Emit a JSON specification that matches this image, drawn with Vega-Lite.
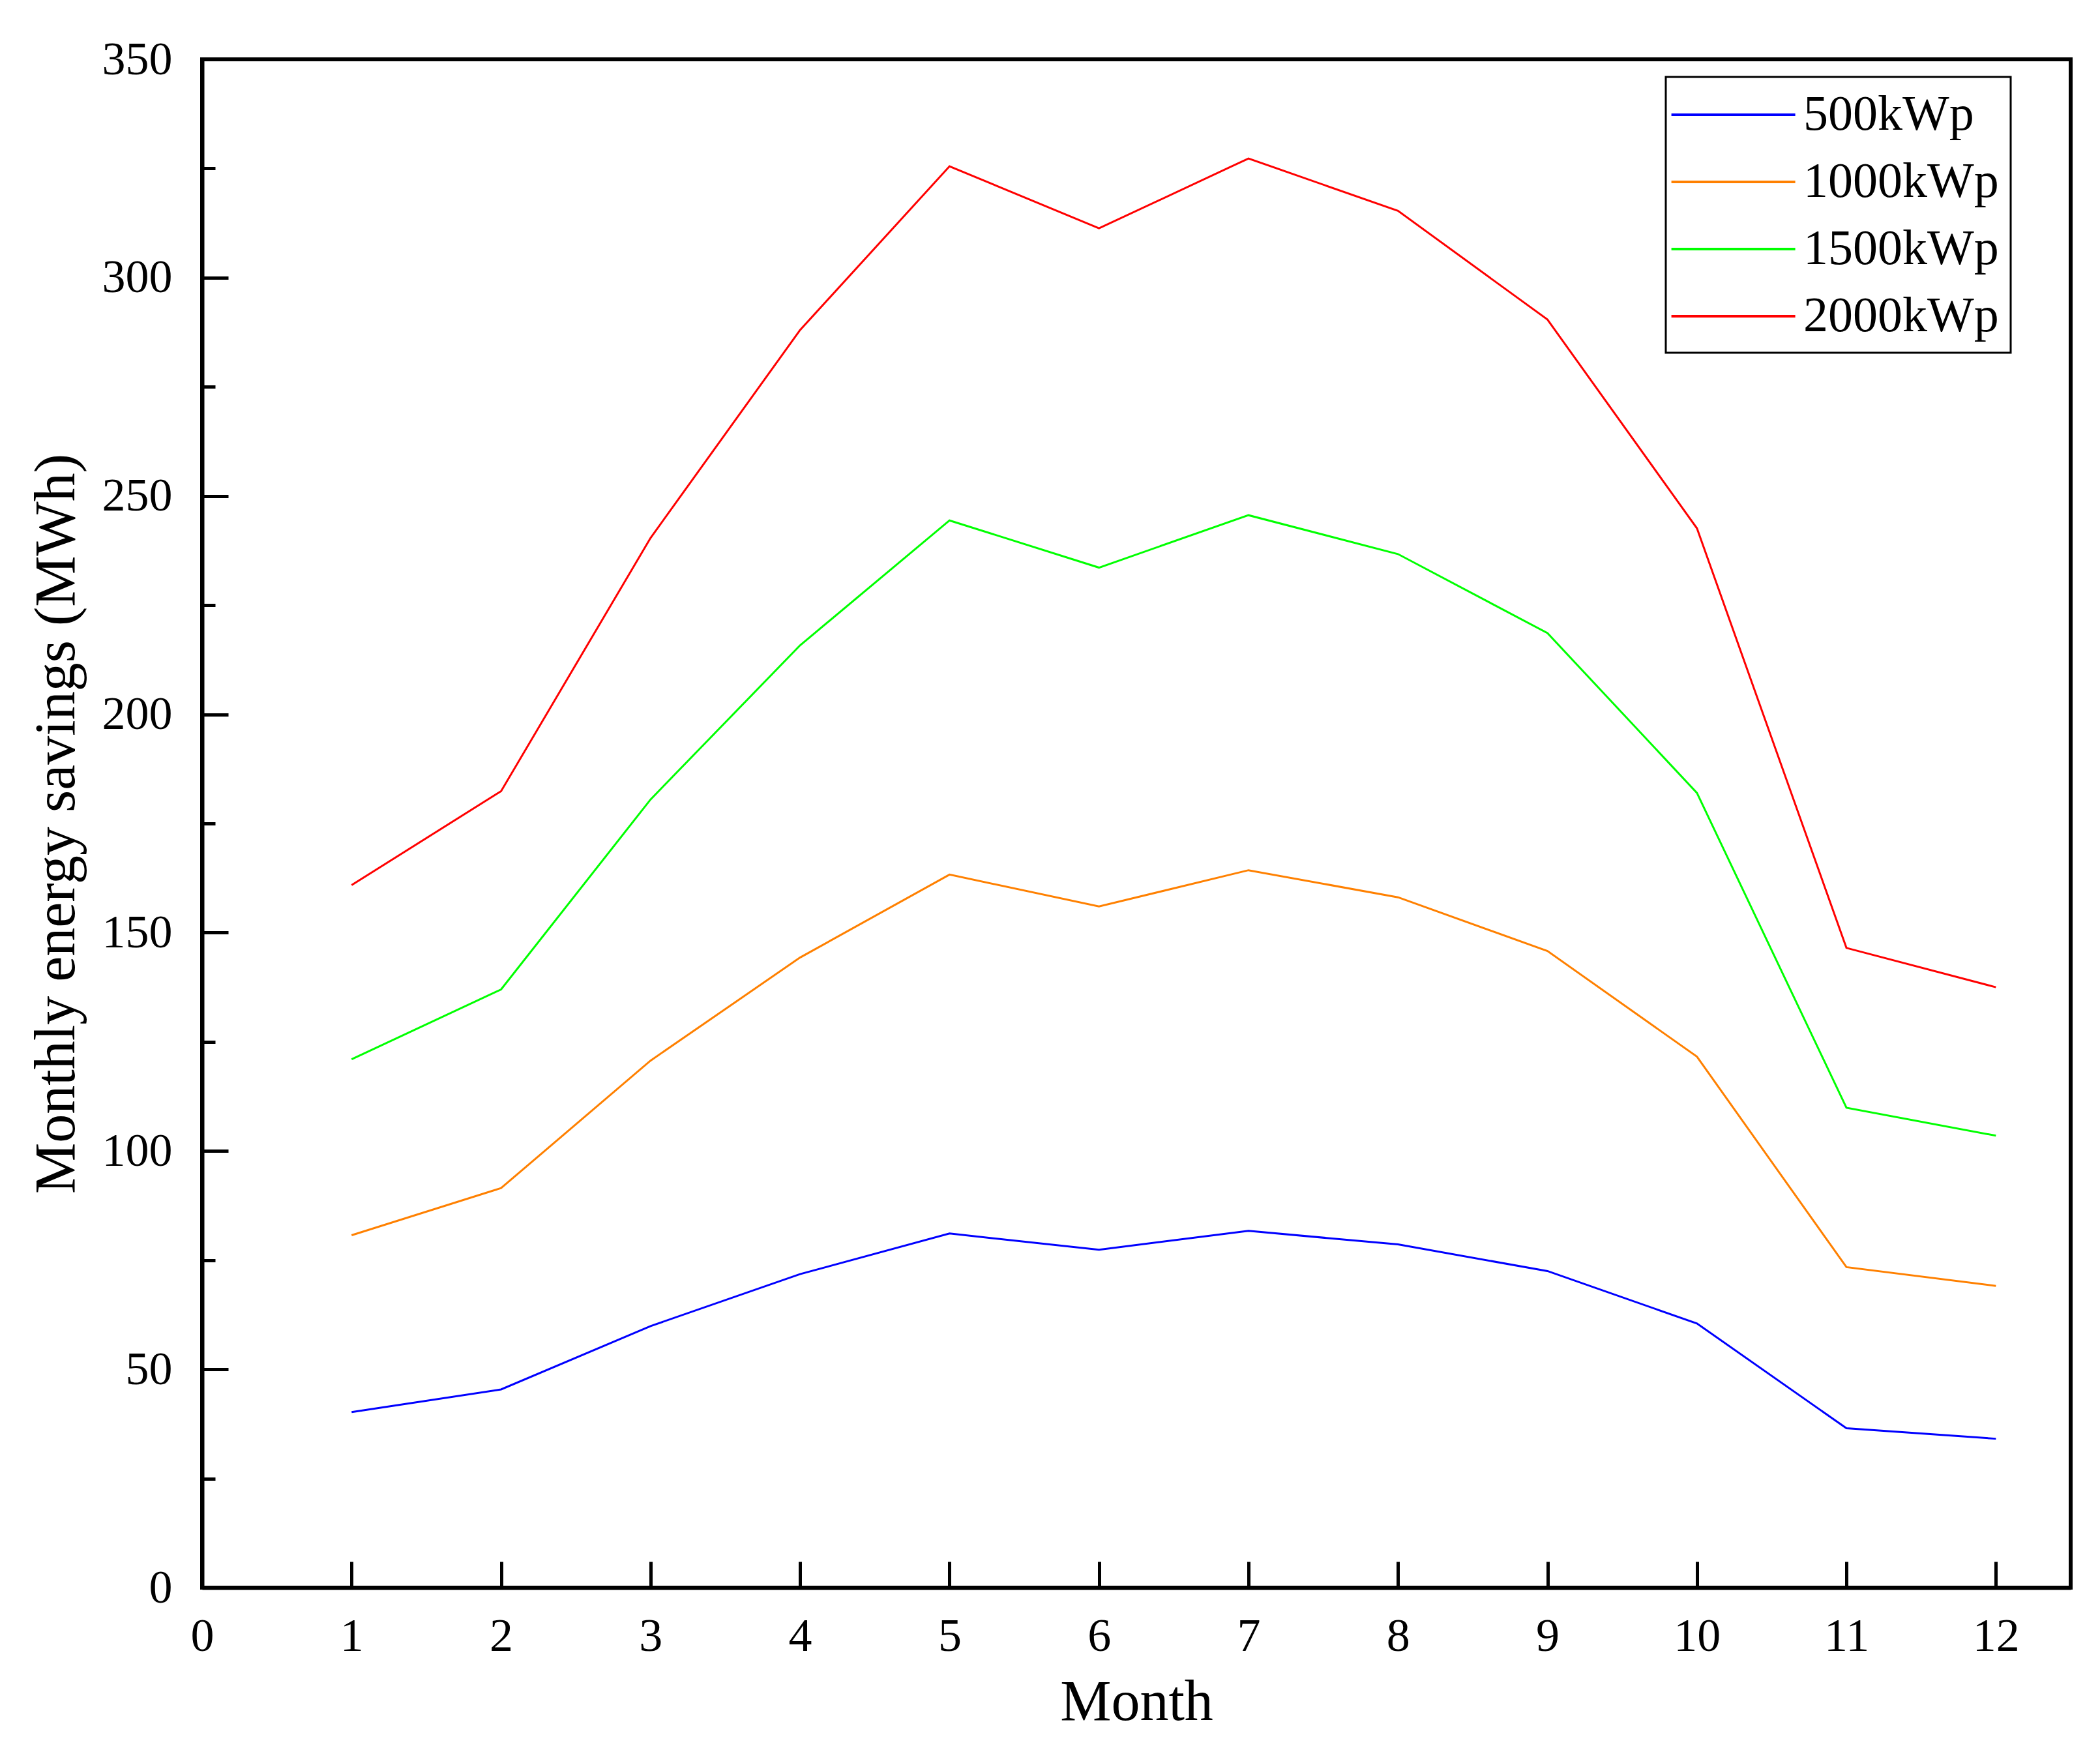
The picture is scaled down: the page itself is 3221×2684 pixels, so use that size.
{
  "$schema": "https://vega.github.io/schema/vega-lite/v6.json",
  "width": 2866,
  "height": 2344,
  "autosize": {"type": "none"},
  "padding": {"left": 310, "top": 91, "right": 45, "bottom": 249},
  "background": "white",
  "config": {
    "font": "Liberation Serif",
    "view": {"stroke": "black", "strokeWidth": 6},
    "legend": {"strokeWidth": 3}
  },
  "data": {
    "values": [
      {"month": 1, "series": "500kWp", "savings": 40.2},
      {"month": 2, "series": "500kWp", "savings": 45.4},
      {"month": 3, "series": "500kWp", "savings": 59.9},
      {"month": 4, "series": "500kWp", "savings": 71.8},
      {"month": 5, "series": "500kWp", "savings": 81.1},
      {"month": 6, "series": "500kWp", "savings": 77.4},
      {"month": 7, "series": "500kWp", "savings": 81.7},
      {"month": 8, "series": "500kWp", "savings": 78.6},
      {"month": 9, "series": "500kWp", "savings": 72.5},
      {"month": 10, "series": "500kWp", "savings": 60.5},
      {"month": 11, "series": "500kWp", "savings": 36.5},
      {"month": 12, "series": "500kWp", "savings": 34.1},
      {"month": 1, "series": "1000kWp", "savings": 80.7},
      {"month": 2, "series": "1000kWp", "savings": 91.5},
      {"month": 3, "series": "1000kWp", "savings": 120.7},
      {"month": 4, "series": "1000kWp", "savings": 144.3},
      {"month": 5, "series": "1000kWp", "savings": 163.3},
      {"month": 6, "series": "1000kWp", "savings": 156.0},
      {"month": 7, "series": "1000kWp", "savings": 164.3},
      {"month": 8, "series": "1000kWp", "savings": 158.1},
      {"month": 9, "series": "1000kWp", "savings": 145.8},
      {"month": 10, "series": "1000kWp", "savings": 121.6},
      {"month": 11, "series": "1000kWp", "savings": 73.4},
      {"month": 12, "series": "1000kWp", "savings": 69.1},
      {"month": 1, "series": "1500kWp", "savings": 121.0},
      {"month": 2, "series": "1500kWp", "savings": 137.0},
      {"month": 3, "series": "1500kWp", "savings": 180.5},
      {"month": 4, "series": "1500kWp", "savings": 215.8},
      {"month": 5, "series": "1500kWp", "savings": 244.4},
      {"month": 6, "series": "1500kWp", "savings": 233.6},
      {"month": 7, "series": "1500kWp", "savings": 245.6},
      {"month": 8, "series": "1500kWp", "savings": 236.7},
      {"month": 9, "series": "1500kWp", "savings": 218.6},
      {"month": 10, "series": "1500kWp", "savings": 182.0},
      {"month": 11, "series": "1500kWp", "savings": 109.9},
      {"month": 12, "series": "1500kWp", "savings": 103.5},
      {"month": 1, "series": "2000kWp", "savings": 160.9},
      {"month": 2, "series": "2000kWp", "savings": 182.4},
      {"month": 3, "series": "2000kWp", "savings": 240.4},
      {"month": 4, "series": "2000kWp", "savings": 288.0},
      {"month": 5, "series": "2000kWp", "savings": 325.5},
      {"month": 6, "series": "2000kWp", "savings": 311.3},
      {"month": 7, "series": "2000kWp", "savings": 327.3},
      {"month": 8, "series": "2000kWp", "savings": 315.3},
      {"month": 9, "series": "2000kWp", "savings": 290.4},
      {"month": 10, "series": "2000kWp", "savings": 242.6},
      {"month": 11, "series": "2000kWp", "savings": 146.5},
      {"month": 12, "series": "2000kWp", "savings": 137.5}
    ]
  },
  "mark": {"type": "line", "strokeWidth": 3, "clip": true},
  "encoding": {
    "x": {
      "field": "month",
      "type": "quantitative",
      "scale": {"domain": [0, 12.5], "nice": false, "zero": false},
      "axis": {
        "title": "Month",
        "values": [0, 0.5, 1, 1.5, 2, 2.5, 3, 3.5, 4, 4.5, 5, 5.5, 6, 6.5, 7, 7.5, 8, 8.5, 9, 9.5, 10, 10.5, 11, 11.5, 12],
        "format": "d",
        "labelExpr": "datum.value % 1 === 0 ? datum.label : ''",
        "tickSize": {"condition": {"test": "datum.value % 1 !== 0", "value": -20}, "value": -40},
        "tickWidth": 5,
        "tickColor": "black",
        "domainColor": "black",
        "domainWidth": 6,
        "grid": false,
        "labelFontSize": 72,
        "labelColor": "black",
        "labelPadding": 79,
        "labelFlush": false,
        "labelOverlap": false,
        "titleFontSize": 88,
        "titleFontWeight": "normal",
        "titleColor": "black",
        "titlePadding": 22
      }
    },
    "y": {
      "field": "savings",
      "type": "quantitative",
      "scale": {"domain": [0, 350], "nice": false},
      "axis": {
        "title": "Monthly energy savings (MWh)",
        "values": [0, 25, 50, 75, 100, 125, 150, 175, 200, 225, 250, 275, 300, 325, 350],
        "format": "d",
        "labelExpr": "datum.value % 50 === 0 ? datum.label : ''",
        "tickSize": {"condition": {"test": "datum.value % 50 !== 0", "value": -20}, "value": -40},
        "tickWidth": 5,
        "tickColor": "black",
        "domainColor": "black",
        "domainWidth": 6,
        "grid": false,
        "labelFontSize": 72,
        "labelColor": "black",
        "labelPadding": 86,
        "labelFlush": false,
        "labelOverlap": false,
        "titleFontSize": 88,
        "titleFontWeight": "normal",
        "titleColor": "black",
        "titlePadding": 25
      }
    },
    "color": {
      "field": "series",
      "type": "nominal",
      "scale": {
        "domain": ["500kWp", "1000kWp", "1500kWp", "2000kWp"],
        "range": ["#0000ff", "#ff8000", "#00ff00", "#ff0000"]
      },
      "legend": {
        "title": null,
        "orient": "none",
        "legendX": 2245,
        "legendY": 27,
        "padding": 18,
        "strokeColor": "black",
        "fillColor": "white",
        "symbolType": "M-1.3,0H3.7",
        "symbolSize": 5776,
        "symbolStrokeWidth": 4,
        "labelFontSize": 76,
        "labelColor": "black",
        "labelOffset": 113,
        "labelLimit": 0,
        "rowPadding": 25
      }
    }
  }
}
